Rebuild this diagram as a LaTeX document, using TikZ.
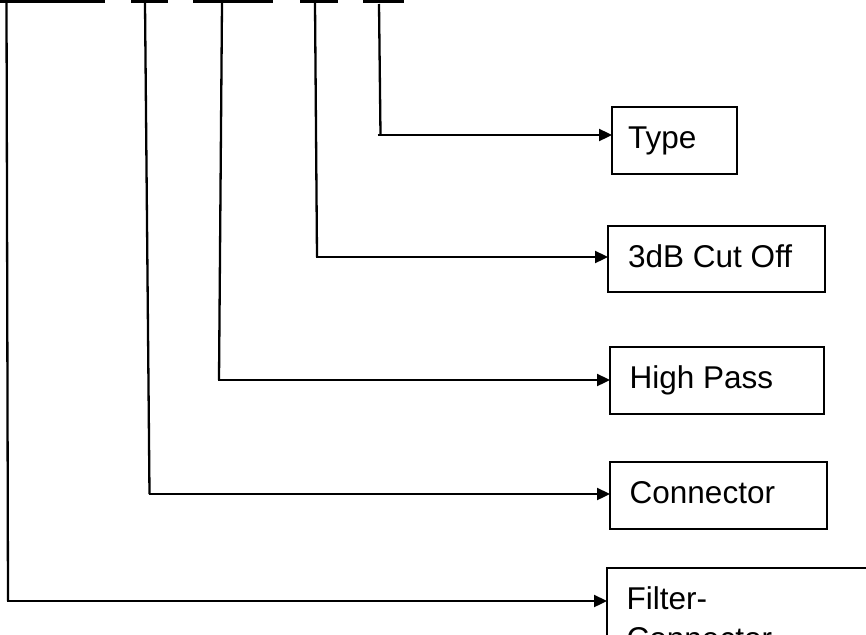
\documentclass[tikz,border=0pt]{standalone}
\usepackage{fontspec}
\setmainfont{Liberation Sans}
\usetikzlibrary{arrows.meta}
\begin{document}
\begin{tikzpicture}[x=1pt,y=-1pt,
  ln/.style={line width=2.3pt},
  arr/.style={line width=2.3pt,-{Triangle[length=13pt,width=12pt]}},
  box/.style={draw,line width=2.3pt,anchor=north west,inner sep=0pt,outer sep=0pt},
  lbl/.style={anchor=base west,inner sep=0pt,font=\fontsize{31.5}{40}\selectfont},
  bar/.style={fill=black}]
\clip (0,0) rectangle (866,634);
\useasboundingbox (0,0) rectangle (866,634);
% top bars
\fill[bar] (-2,-1) rectangle (105,3.5);
\fill[bar] (131,-1) rectangle (168,3.5);
\fill[bar] (193,-1) rectangle (273,3.5);
\fill[bar] (300,-1) rectangle (338,3.5);
\fill[bar] (363,-1) rectangle (404,3.5);
% boxes
\node[box,minimum width=125pt,minimum height=67pt] (type) at (612,107) {};
\node[box,minimum width=217pt,minimum height=66pt] (cut) at (608,226) {};
\node[box,minimum width=214pt,minimum height=67pt] (hp) at (610,347) {};
\node[box,minimum width=217pt,minimum height=67pt] (conn) at (610,462) {};
\node[box,minimum width=320pt,minimum height=140pt] (filt) at (607,568) {};
% labels
\node[lbl] (typet) at (628,148) {Type};
\node[lbl] (cutt) at (628,267) {3dB Cut Off};
\node[lbl] (hpt) at (629.5,388) {High Pass};
\node[lbl] (connt) at (629.5,503) {Connector};
\node[lbl] (filtt) at (626.5,609) {Filter-};
\node[lbl] (filtt2) at (626.5,649) {Connector};
% tops and corners
\coordinate (a0) at (6.5,3);   \coordinate (a1) at (8,601);
\coordinate (b0) at (145,3);   \coordinate (b1) at (149.5,494);
\coordinate (c0) at (222,3);   \coordinate (c1) at (219,380);
\coordinate (d0) at (315,3);   \coordinate (d1) at (317,257);
\coordinate (e0) at (379,4);   \coordinate (e1) at (380.5,135);
\draw[ln] (a0) -- (a1);
\draw[ln] (b0) -- (b1);
\draw[ln] (c0) -- (c1);
\draw[ln] (d0) -- (d1);
\draw[ln] (e0) -- (e1);
\draw[arr] ([xshift=-1pt]a1) -- (filt.west |- a1);
\draw[arr] ([xshift=-1pt]b1) -- (conn.west |- b1);
\draw[arr] ([xshift=-1pt]c1) -- (hp.west |- c1);
\draw[arr] ([xshift=-1pt]d1) -- (cut.west |- d1);
\draw[arr] ([xshift=-3pt]e1) -- (type.west |- e1);
\end{tikzpicture}
\end{document}
